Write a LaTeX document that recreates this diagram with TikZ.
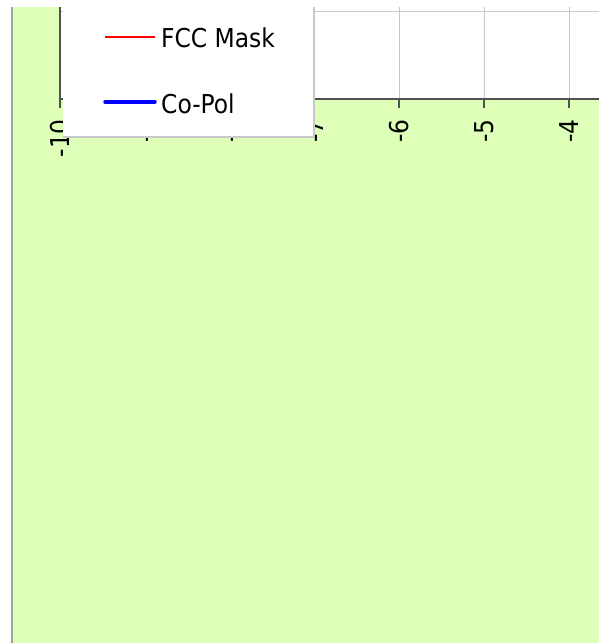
\documentclass[tikz,border=0pt]{standalone}
\usepackage{fontspec}
\setmainfont{DejaVu Sans Condensed}
\definecolor{chartgreen}{RGB}{221,255,184}
\definecolor{gridgray}{RGB}{200,200,200}
\definecolor{axisgray}{RGB}{80,80,80}
\definecolor{bordergray}{RGB}{160,160,160}
\begin{document}
\begin{tikzpicture}[x=1pt,y=-1pt,
  ticklabel/.style={rotate=90,anchor=east,inner sep=0pt,font=\fontsize{26}{26}\selectfont},
  legtext/.style={anchor=base west,inner sep=0pt,font=\fontsize{26}{26}\selectfont},
  gridline/.style={draw=gridgray,line width=1pt},
  axisline/.style={draw=axisgray,line width=2pt},
  tickmark/.style={draw=axisgray,line width=1.2pt}]
\useasboundingbox (0,0) rectangle (601,643);
\fill[white] (0,0) rectangle (601,643);
% chart area
\fill[chartgreen] (12,7) rectangle (599,643);
\draw[bordergray,line width=1.5pt] (12,7) -- (12,643);
% plot area
\fill[white] (60,7) rectangle (599,99);
\draw[gridline] (60,11) -- (599,11);
\foreach \gx in {145,230,314,399,484,569}
  \draw[gridline] (\gx,7) -- (\gx,99);
\draw[axisline] (60,7) -- (60,99);
\draw[axisline] (59,98.5) -- (599,98.5);
% ticks and labels
\foreach \tx/\tl in {60/-10,145/-9,230/-8,314/-7,399/-6,484/-5,569/-4}{
  \draw[tickmark] (\tx,98.5) -- (\tx,108);
  \node[ticklabel] (lab\tx) at (\tx,119) {\tl};
}
% legend
\fill[white] (63,0) rectangle (314,137);
\draw[gridgray,line width=1.2pt] (314,7) -- (314,137) -- (63,137);
\coordinate (r1) at (105,37);
\coordinate (r2) at (155,37);
\coordinate (b1) at (105,102);
\coordinate (b2) at (155,102);
\draw[red,line width=1.2pt] (r1) -- (r2);
\draw[blue,line width=3.5pt,line cap=round] (b1) -- (b2);
\node[legtext] (fcc) at (161,47) {FCC Mask};
\node[legtext] (copol) at (161,113) {Co-Pol};
\end{tikzpicture}
\end{document}
